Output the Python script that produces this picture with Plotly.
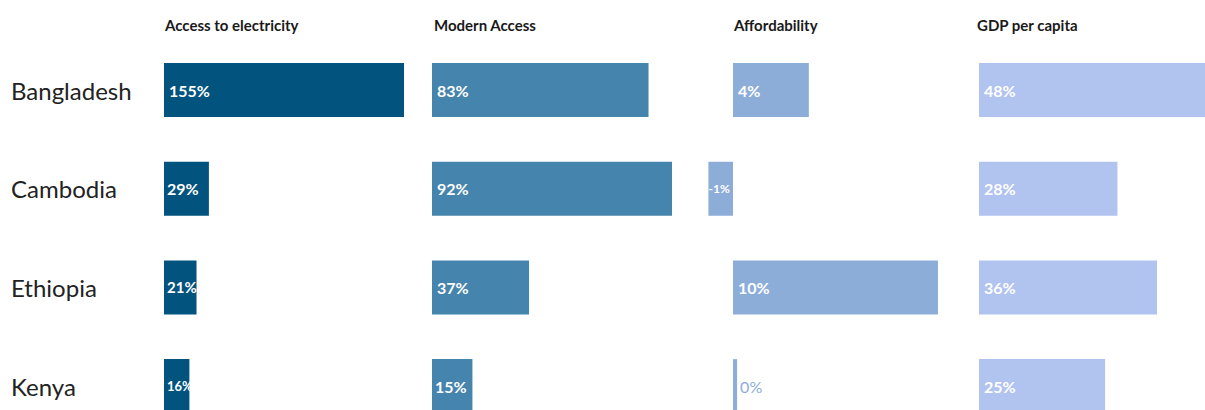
import plotly.graph_objects as go

countries = ["Bangladesh", "Cambodia", "Ethiopia", "Kenya"]
panel_titles = ["Access to electricity", "Modern Access", "Affordability", "GDP per capita"]

access_values = [155, 29, 21, 16.4]
modern_values = [83, 92, 37.2, 15.5]
afford_values = [3.7, -1.2, 10.0, 0.2]
gdp_values = [48, 28, 36, 25.5]

access_labels = ["155%", "29%", "21%", "16%"]
modern_labels = ["83%", "92%", "37%", "15%"]
afford_labels = ["4%", "-1%", "10%", "0%"]
gdp_labels = ["48%", "28%", "36%", "25%"]

series = [access_values, modern_values, afford_values, gdp_values]
labels = [access_labels, modern_labels, afford_labels, gdp_labels]
colors = ["#03537F", "#4584AD", "#8DADD9", "#B1C3EF"]

# per-label font sizes (narrow bars show smaller labels)
label_sizes = [[16, 16, 15, 13], [16, 16, 16, 16], [16, 12, 16, 16], [16, 16, 16, 16]]

W, H = 1205, 410
domains_px = [(164, 404), (432, 672), (708, 948), (979, 1205)]
ranges = [[0, 155], [0, 92], [-1.22, 10.49], [0, 45.7]]
title_x_px = [162, 432, 731, 975]

row_pos = list(range(len(countries)))

fig = go.Figure()
for i in range(4):
    ax = "" if i == 0 else str(i + 1)
    d0, d1 = domains_px[i]
    pxper = (d1 - d0) / (ranges[i][1] - ranges[i][0])
    textpos, templ = [], []
    for v in series[i]:
        textpos.append("outside" if abs(v) < 0.5 else "inside")
        templ.append("\u2009%{text}" if abs(v) * pxper > 60 else "%{text}")
    fig.add_trace(go.Bar(
        x=series[i], y=row_pos, orientation="h",
        text=labels[i], texttemplate=templ, textposition=textpos, textangle=0,
        insidetextanchor="start", constraintext="none",
        insidetextfont=dict(family="Lato", size=label_sizes[i], color="white", weight="bold"),
        outsidetextfont=dict(family="Lato", size=16, color=colors[i]),
        marker=dict(color=colors[i], line=dict(width=0)),
        width=0.547,
        xaxis="x" + ax, yaxis="y" + ax,
        cliponaxis=True,
        hoverinfo="skip",
    ))
    fig.layout["xaxis" + ax] = dict(domain=[d0 / W, d1 / W], range=ranges[i],
                                    visible=False, fixedrange=True)
    fig.layout["yaxis" + ax] = dict(range=[3.242, -0.912], visible=False,
                                    anchor="x" + ax, domain=[0, 1], fixedrange=True)

annotations = []
for i, t in enumerate(panel_titles):
    annotations.append(dict(text=t, x=title_x_px[i] / W, y=1 - 25 / H,
                            xref="paper", yref="paper", xanchor="left", yanchor="middle",
                            showarrow=False,
                            font=dict(family="Lato", size=15, color="#1a1a1a", weight="bold")))
for j, c in enumerate(countries):
    annotations.append(dict(text=c, x=9 / W, y=j, xref="paper", yref="y",
                            xanchor="left", yanchor="middle", showarrow=False,
                            font=dict(family="Lato", size=24, color="#222222")))

fig.update_layout(
    width=W, height=H,
    margin=dict(l=0, r=0, t=0, b=0),
    paper_bgcolor="white", plot_bgcolor="white",
    showlegend=False,
    annotations=annotations,
)

fig.write_html("out.html", config={"displayModeBar": False},
               post_script="document.body.style.margin='0';document.body.style.overflow='hidden';")
